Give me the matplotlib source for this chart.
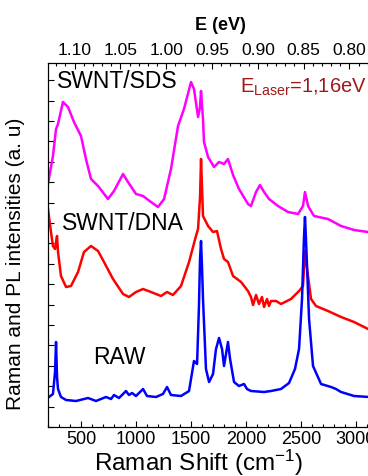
import numpy as np
import matplotlib
matplotlib.use("Agg")
import matplotlib.pyplot as plt
from matplotlib.ticker import MultipleLocator, FixedLocator, NullFormatter

plt.rcParams['font.family'] = ['Liberation Sans', 'DejaVu Sans']
plt.rcParams['mathtext.default'] = 'regular'

# Raman shift (cm-1) and intensity (a.u.)
raw_shift = [209, 245, 264, 273, 282, 291, 318, 364, 455, 564, 636, 727, 773, 800, 845, 882,
             909, 936, 964, 1000, 1064, 1100, 1182, 1245, 1282, 1318, 1409, 1482, 1527, 1555,
             1572, 1582, 1591, 1600, 1609, 1636, 1664, 1700, 1727, 1755, 1782, 1800, 1818,
             1836, 1855, 1891, 1936, 1982, 2009, 2045, 2164, 2227, 2318, 2391, 2445, 2482,
             2509, 2527, 2536, 2545, 2573, 2609, 2682, 2773, 2818, 2864, 2982, 3118]
raw_int = [30, 33, 55, 85, 50, 38, 30, 27, 26, 29, 26, 30, 28, 32, 29, 33,
           36, 32, 34, 31, 38, 31, 30, 33, 40, 32, 31, 36, 66, 63,
           120, 168, 186, 160, 128, 58, 45, 53, 78, 89, 78, 61, 73,
           85, 68, 45, 41, 43, 38, 36, 35, 36, 38, 44, 58, 78,
           128, 190, 210, 188, 108, 61, 43, 40, 38, 35, 31, 30]

dna_shift = [200, 227, 245, 264, 273, 282, 291, 318, 364, 409, 473, 527, 591, 655, 709, 791,
             882, 936, 1000, 1064, 1136, 1227, 1282, 1336, 1409, 1482, 1545, 1564, 1582,
             1591, 1600, 1609, 1655, 1700, 1736, 1773, 1800, 1836, 1882, 1955, 2018, 2045,
             2064, 2091, 2118, 2145, 2164, 2191, 2209, 2227, 2273, 2318, 2409, 2482, 2518,
             2536, 2555, 2591, 2636, 2745, 2864, 2982, 3109]
dna_int = [218, 195, 181, 178, 185, 191, 175, 151, 140, 141, 155, 175, 181, 176, 165, 148,
           133, 130, 135, 138, 135, 131, 135, 132, 141, 165, 191, 198, 230,
           268, 240, 211, 201, 195, 196, 178, 168, 165, 151, 145, 136, 130,
           122, 132, 123, 130, 120, 128, 121, 126, 126, 123, 128, 136, 141,
           176, 158, 128, 121, 116, 110, 105, 98]

sds_shift = [200, 245, 273, 291, 336, 382, 436, 500, 545, 591, 655, 745, 800, 882, 927, 1000,
             1064, 1136, 1200, 1255, 1318, 1382, 1436, 1500, 1527, 1564, 1582, 1591, 1609,
             1618, 1655, 1709, 1755, 1800, 1836, 1882, 1936, 2018, 2045, 2091, 2127, 2164,
             2209, 2291, 2382, 2473, 2518, 2536, 2564, 2618, 2745, 2864, 2982, 3109]
sds_int = [243, 271, 298, 303, 325, 320, 305, 291, 268, 248, 241, 228, 236, 253, 245, 233,
           231, 225, 220, 228, 258, 301, 318, 345, 338, 310, 320, 336, 308,
           285, 270, 260, 265, 263, 268, 252, 238, 223, 221, 235, 242, 235,
           228, 221, 215, 213, 221, 235, 221, 211, 208, 201, 197, 195]

e_ticks = [1.10, 1.05, 1.00, 0.95, 0.90, 0.85, 0.80]
e_minor = np.arange(1.14, 0.775, -0.01)


def ev_to_shift(e):
    # energy axis as drawn on the top of the original figure
    return (1.153 - np.asarray(e)) * 8330.0


fig = plt.figure(figsize=(3.68, 4.77), dpi=100)
ax = fig.add_axes([48 / 368, 49 / 477, 322 / 368, 364 / 477])

ax.plot(sds_shift, sds_int, color='#FF00FF', lw=1.8)
ax.plot(dna_shift, dna_int, color='#FF0000', lw=1.8)
ax.plot(raw_shift, raw_int, color='#0000FF', lw=1.8)

ax.set_xlim(200, 3127)
ax.set_ylim(0, 364)

ax.xaxis.set_major_locator(MultipleLocator(500))
ax.xaxis.set_minor_locator(MultipleLocator(100))
ax.yaxis.set_major_locator(MultipleLocator(20.4))
ax.yaxis.set_major_formatter(NullFormatter())
ax.tick_params(axis='both', which='both', direction='in', labelsize=13)
ax.tick_params(axis='both', which='major', length=4, width=0.8)
ax.tick_params(axis='both', which='minor', length=2, width=0.8)
ax.tick_params(axis='x', pad=2)
ax.spines['right'].set_visible(False)

# top energy axis
top = ax.twiny()
top.set_xlim(ax.get_xlim())
top.xaxis.set_major_locator(FixedLocator(ev_to_shift(e_ticks)))
top.xaxis.set_minor_locator(FixedLocator(ev_to_shift(e_minor)))
top.set_xticklabels(['%.2f' % e for e in e_ticks])
top.tick_params(axis='x', which='both', direction='in', labelsize=12.5, pad=4)
top.tick_params(axis='x', which='major', length=4, width=0.8)
top.tick_params(axis='x', which='minor', length=2, width=0.8)
top.spines['right'].set_visible(False)
top.set_xlabel('E (eV)', fontsize=13, fontweight='bold')
top.xaxis.set_label_coords(0.534, 1.093)

ax.set_xlabel('Raman Shift (cm$^{-1}$)', fontsize=17.5)
ax.xaxis.set_label_coords(0.469, -0.054)
ax.set_ylabel('Raman and PL intensities (a. u)', fontsize=15)
ax.yaxis.set_label_coords(-0.072, 0.45)

ax.text(57 / 368, (477 - 82) / 477, 'SWNT/SDS', transform=fig.transFigure,
        fontsize=16.5, va='center')
ax.text(62 / 368, (477 - 224) / 477, 'SWNT/DNA', transform=fig.transFigure,
        fontsize=16.5, va='center')
ax.text(93 / 368, (477 - 358) / 477, 'RAW', transform=fig.transFigure,
        fontsize=16.5, va='center')
ax.text(240 / 368, (477 - 87) / 477, 'E$_{Laser}$=1,16eV', transform=fig.transFigure,
        fontsize=14.5, va='center', color='#9E1A1A')

fig.savefig('out.png', dpi=100)
